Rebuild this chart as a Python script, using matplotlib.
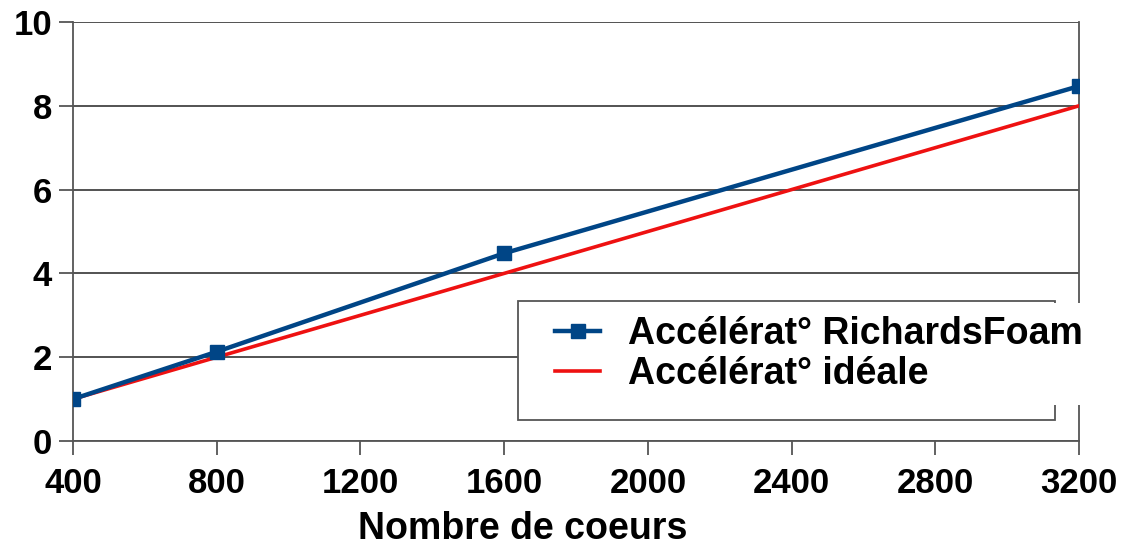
import matplotlib.pyplot as plt
from matplotlib.patches import Rectangle

# data
coeurs = [400, 800, 1600, 3200]
acc_richards = [1.0, 2.13, 4.48, 8.47]
acc_ideale = [1, 2, 4, 8]
xticks = [400, 800, 1200, 1600, 2000, 2400, 2800, 3200]
yticks = [0, 2, 4, 6, 8, 10]

plt.rcParams['font.family'] = 'Liberation Sans'
plt.rcParams['font.weight'] = 'bold'

W, H = 1122, 549
fig = plt.figure(figsize=(W/100, H/100), dpi=100)
ax = fig.add_axes([73/W, 1 - 441/H, (1079 - 73)/W, (441 - 22)/H])

def axc(px, py):
    # pixel -> axes fraction
    return (px - 73)/1006, (441 - py)/419

ax.plot(coeurs, acc_richards, color='#004586', lw=3.2, marker='s', ms=10,
        label='Accélérat° RichardsFoam', zorder=4)
ax.plot(coeurs, acc_ideale, color='#ee1111', lw=2.6, label='Accélérat° idéale', zorder=3)

ax.set_xlim(400, 3200)
ax.set_ylim(0, 10)
ax.set_xticks(xticks)
ax.set_yticks(yticks)
ax.tick_params(labelsize=25, width=1.3, length=10, color='#555555')
ax.tick_params(axis='x', pad=9)
ax.tick_params(axis='y', pad=5)
ax.grid(axis='y', color='#444444', lw=1.3)
ax.set_axisbelow(True)
for s in ['left', 'right', 'bottom']:
    ax.spines[s].set_color('#555555')
    ax.spines[s].set_linewidth(1.3)
ax.spines['top'].set_visible(False)

fig.text(523/W, 2/H, 'Nombre de coeurs', fontsize=27, fontweight='bold',
         ha='center', va='bottom')

# legend frame and the white block behind the labels
x0, y0 = axc(518, 420)
x1, y1 = axc(1055, 301)
ax.add_patch(Rectangle((x0, y0), x1 - x0, y1 - y0, transform=ax.transAxes,
                       facecolor='white', edgecolor='#555555', lw=1.3,
                       zorder=4.5, clip_on=False))
bx0, by0 = axc(610, 405)
bx1, by1 = axc(1088, 303)
ax.add_patch(Rectangle((bx0, by0), bx1 - bx0, by1 - by0, transform=ax.transAxes,
                       facecolor='white', edgecolor='none',
                       zorder=4.6, clip_on=False))

lx, ly = axc(555, 354)
leg = ax.legend(loc='center left', bbox_to_anchor=(lx, ly), fontsize=27,
                frameon=False, handlelength=1.2, borderpad=0, borderaxespad=0,
                labelspacing=0.1, handletextpad=0.75)
leg.set_zorder(5)

fig.savefig('out.png', dpi=100)
